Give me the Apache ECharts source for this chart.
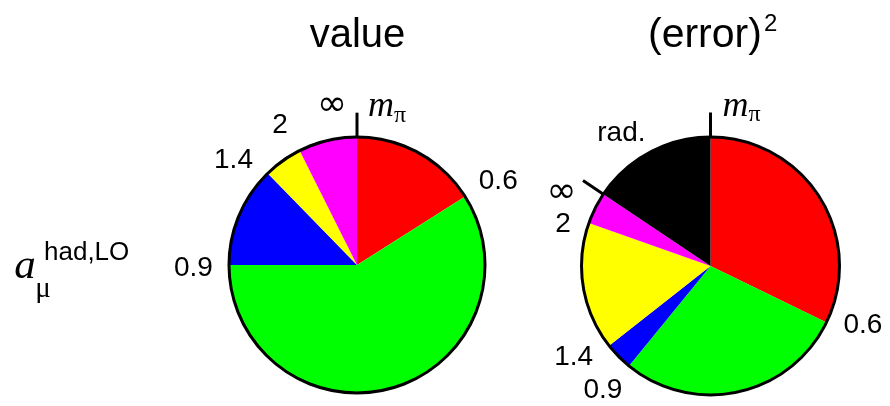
<!DOCTYPE html>
<html>
<head>
<meta charset="utf-8">
<script src="https://cdn.jsdelivr.net/npm/echarts@6/dist/echarts.min.js"></script>
<style>
  html, body { margin: 0; background: #fff; }
  #main { width: 890px; height: 406px; }
</style>
</head>
<body>
<div id="main"></div>
<script>
// shares in %, clockwise from the top (m_pi)
var bins = ['mπ–0.6', '0.6–0.9', '0.9–1.4', '1.4–2', '2–∞'];
var valueShare = [16.0, 59.0, 12.7, 4.9, 7.4];
var errorBins = ['mπ–0.6', '0.6–0.9', '0.9–1.4', '1.4–2', '2–∞', 'rad.'];
var errorShare = [32.2, 28.7, 3.5, 16.0, 4.0, 15.6];
// energy (GeV) at the edges of the slices
var edgeLabels = ['{m|m}{pi|π}', '0.6', '0.9', '1.4', '2', '{inf|∞}'];

var colors = ['#ff0000', '#00ff00', '#0000ff', '#ffff00', '#ff00ff', '#000000'];
var sans = '"Liberation Sans", Arial, sans-serif';
var serif = '"Liberation Serif", "Times New Roman", serif';

// pixel nudges of the edge labels (layout only)
var leftNudge = [[30, 4], [4, 3], [-1, 3], [-10, 12], [-4, 6], [-25, 3]];
var rightNudge = [[31, 4], [5, -12], [-4, -3], [-8, -10], [7, 13], [-13, 18]];
var radNudge = [-12, 12];
var labelR = 1.27;

function cumulate(arr) {
  var out = [0];
  for (var i = 0; i < arr.length; i++) out.push(out[i] + arr[i]);
  return out;
}

var labelRich = {
  m: { fontFamily: serif, fontStyle: 'italic', fontSize: 36, color: '#000' },
  pi: { fontFamily: serif, fontSize: 24, color: '#000', padding: [18, 0, 0, 0] },
  inf: { fontFamily: '"DejaVu Sans", sans-serif', fontSize: 36, color: '#000' }
};

function edgeLabelData(shares, nudge) {
  var cum = cumulate(shares);
  var res = [];
  for (var i = 0; i < edgeLabels.length; i++) {
    res.push({
      value: [labelR, cum[i]],
      name: edgeLabels[i],
      label: { offset: nudge[i] }
    });
  }
  return res;
}

function pieData(names, shares) {
  return shares.map(function (v, i) {
    return { name: names[i], value: v, itemStyle: { color: colors[i] } };
  });
}

// short radial tick sticking out of the rim
function tickSeries(polarIndex, angles) {
  return {
    type: 'custom',
    coordinateSystem: 'polar',
    polarIndex: polarIndex,
    data: angles.map(function (a) { return [1.19, a]; }),
    silent: true,
    z: 10,
    renderItem: function (params, api) {
      var a = api.value(1);
      var p1 = api.coord([1, a]);
      var p2 = api.coord([api.value(0), a]);
      return {
        type: 'line',
        shape: { x1: p1[0], y1: p1[1], x2: p2[0], y2: p2[1] },
        style: { stroke: '#000', lineWidth: 3 }
      };
    }
  };
}

function labelSeries(polarIndex, data) {
  return {
    type: 'scatter',
    coordinateSystem: 'polar',
    polarIndex: polarIndex,
    data: data,
    symbolSize: 1,
    clip: false,
    silent: true,
    z: 10,
    itemStyle: { color: 'transparent', opacity: 1 },
    label: {
      show: true,
      position: 'inside',
      formatter: '{b}',
      fontFamily: sans,
      fontSize: 28,
      color: '#000',
      opacity: 1,
      align: 'center',
      verticalAlign: 'middle',
      rich: labelRich
    }
  };
}

var pies = [
  { center: [357, 265], radius: 128 },
  { center: [710.5, 266], radius: 129 }
];

var rightLabels = edgeLabelData(errorShare, rightNudge);
var errCum = cumulate(errorShare);
rightLabels.push({
  value: [labelR, (errCum[5] + errCum[6]) / 2],
  name: errorBins[5],
  label: { offset: radNudge }
});

var chart = echarts.init(document.getElementById('main'));

var option = {
  animation: false,
  backgroundColor: '#fff',
  polar: pies.map(function (p) { return { center: p.center, radius: p.radius }; }),
  angleAxis: [0, 1].map(function (i) {
    return {
      polarIndex: i,
      type: 'value',
      min: 0,
      max: 100,
      startAngle: 90,
      clockwise: true,
      z: 10,
      axisLine: { show: true, lineStyle: { color: '#000', width: 3 } },
      axisTick: { show: false },
      axisLabel: { show: false },
      splitLine: { show: false }
    };
  }),
  radiusAxis: [0, 1].map(function (i) {
    return { polarIndex: i, type: 'value', min: 0, max: 1, show: false };
  }),
  series: [
    {
      type: 'pie',
      center: pies[0].center,
      radius: pies[0].radius,
      startAngle: 90,
      clockwise: true,
      silent: true,
      label: { show: false },
      labelLine: { show: false },
      itemStyle: { borderWidth: 0 },
      data: pieData(bins, valueShare)
    },
    {
      type: 'pie',
      center: pies[1].center,
      radius: pies[1].radius,
      startAngle: 90,
      clockwise: true,
      silent: true,
      label: { show: false },
      labelLine: { show: false },
      itemStyle: { borderWidth: 0 },
      data: pieData(errorBins, errorShare)
    },
    tickSeries(0, [0]),
    tickSeries(1, [0, errCum[5]]),
    labelSeries(0, edgeLabelData(valueShare, leftNudge)),
    labelSeries(1, rightLabels)
  ],
  graphic: [
    { type: 'text', x: 357.5, y: 36, style: { text: 'value', font: '40px ' + sans, fill: '#000', align: 'center', verticalAlign: 'middle' } },
    { type: 'text', x: 648, y: 36, style: { text: '(error)', font: '41px ' + sans, fill: '#000', align: 'left', verticalAlign: 'middle' } },
    { type: 'text', x: 764, y: 24, style: { text: '2', font: '24px ' + sans, fill: '#000', align: 'left', verticalAlign: 'middle' } },
    { type: 'text', x: 25, y: 267, style: { text: 'a', font: 'italic 43px ' + serif, fill: '#000', align: 'center', verticalAlign: 'middle' } },
    { type: 'text', x: 43, y: 289, style: { text: 'μ', font: '29px ' + serif, fill: '#000', align: 'center', verticalAlign: 'middle' } },
    { type: 'text', x: 44, y: 253, style: { text: 'had,LO', font: '26px ' + sans, fill: '#000', align: 'left', verticalAlign: 'middle' } }
  ]
};

chart.setOption(option);
</script>
</body>
</html>
